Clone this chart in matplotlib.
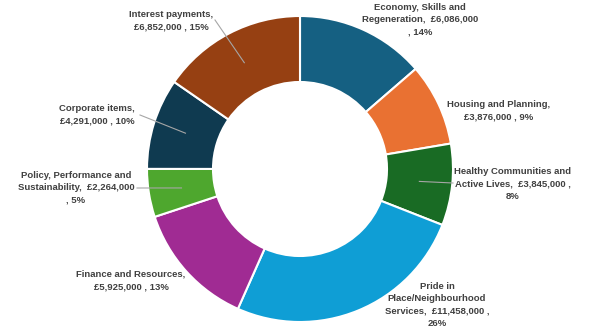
import numpy as np
import matplotlib.pyplot as plt

# budget split by service area (clockwise from 12 o'clock)
areas = ["Economy, Skills and\nRegeneration,  £6,086,000\n, 14%",
         "Housing and Planning,\n£3,876,000 , 9%",
         "Healthy Communities and\nActive Lives,  £3,845,000 ,\n8%",
         "Pride in\nPlace/Neighbourhood\nServices,  £11,458,000 ,\n26%",
         "Finance and Resources,\n£5,925,000 , 13%",
         "Policy, Performance and\nSustainability,  £2,264,000\n, 5%",
         "Corporate items,\n£4,291,000 , 10%",
         "Interest payments,\n£6,852,000 , 15%"]
amounts = [6086000, 3876000, 3845000, 11458000, 5925000, 2264000, 4291000, 6852000]
colours = ["#156082", "#E97132", "#196B24", "#0F9ED5",
           "#A02B93", "#4EA72E", "#0F3A50", "#964012"]

# where each label sits (pixels, y down) and where its leader line starts
label_xy = [(420, 20), (499, 110.5), (513, 184), (437, 305),
            (131, 280.5), (76, 188), (97, 114.5), (171, 21)]
leader_from = [None, None, (453, 183), None,
               None, (137, 188), (140, 115), (215, 20)]

W, H = 591, 331
cx, cy = 300, 169
r_out, r_in = 153, 87

fig = plt.figure(figsize=(W / 100, H / 100), dpi=100)
ax = fig.add_axes([0, 0, 1, 1])
ax.axis("off")

ax.pie(amounts, colors=colours, startangle=90, counterclock=False,
       center=(cx, H - cy), radius=r_out,
       wedgeprops=dict(width=r_out - r_in, edgecolor="white", linewidth=1.5))
ax.set_xlim(0, W)
ax.set_ylim(0, H)
ax.set_aspect("equal")

frac = np.array(amounts) / sum(amounts)
mids = np.cumsum(frac) - frac / 2
r_mid = (r_out + r_in) / 2

for name, (lx, ly), start, m in zip(areas, label_xy, leader_from, mids):
    ax.text(lx, H - ly, name, ha="center", va="center", fontsize=6.8,
            fontweight="bold", color="#404040", linespacing=1.47,
            family=["Liberation Sans", "DejaVu Sans"])
    if start is not None:
        # line from the label to the middle of its ring segment
        ang = 2 * np.pi * m
        px = cx + r_mid * np.sin(ang)
        py = H - cy + r_mid * np.cos(ang)
        ax.plot([start[0], px], [H - start[1], py], color="#a6a6a6", lw=0.8)

fig.savefig("out.png", dpi=100)
